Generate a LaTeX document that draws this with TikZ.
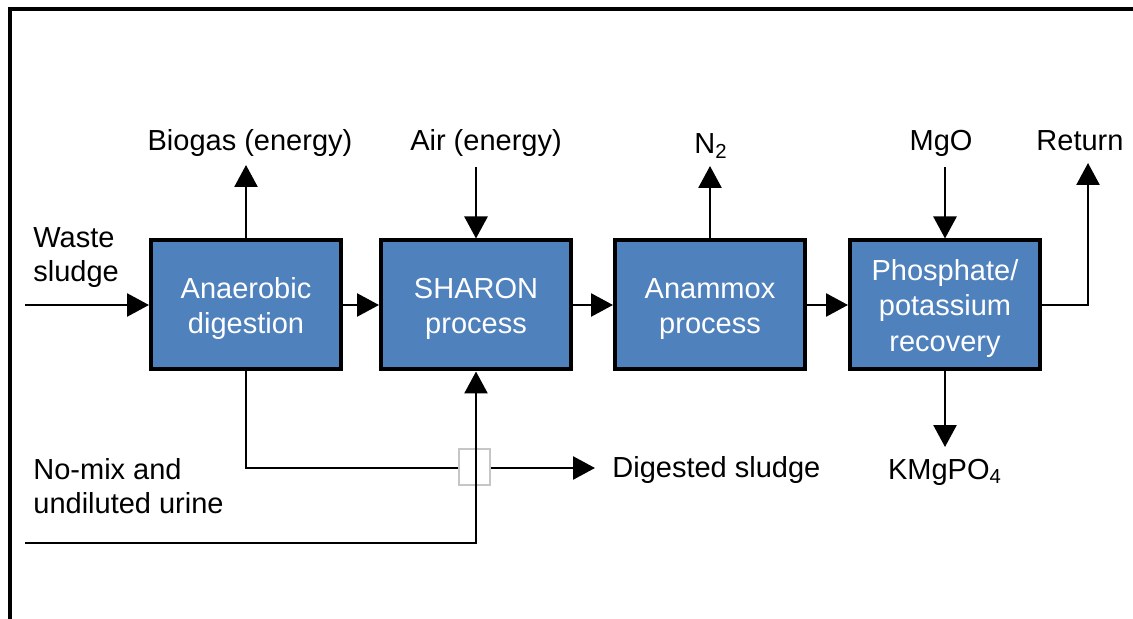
\documentclass[tikz,border=0pt]{standalone}
\usepackage{fontspec}
\setmainfont{Liberation Sans}
\usetikzlibrary{arrows.meta}
\definecolor{procblue}{HTML}{4F81BD}
% extra headroom above the first line of a process box
\newcommand{\topgap}{\rule{0pt}{14pt}}
\tikzset{
  proc/.style={draw=black, line width=2pt, fill=procblue, text=white,
    minimum width=95pt, minimum height=64.5pt, inner sep=0pt, align=center,
    font=\fontsize{14.5}{17.8}\selectfont},
  lbl/.style={inner sep=0pt, align=left, font=\fontsize{14.5}{17}\selectfont},
  flow/.style={line width=1.3pt, -{Triangle[width=11.5pt,length=11pt]}}
}

\begin{document}
\begin{tikzpicture}[x=0.5pt,y=-0.5pt]
  \useasboundingbox (0,0) rectangle (1133,619);
  \draw[line width=2pt] (10,619) -- (10,9) -- (1133,9);

  % process chain
  \node[proc] (ana) at (246,305) {\topgap Anaerobic\\digestion};
  \node[proc] (sha) at (476,305) {\topgap SHARON\\process};
  \node[proc] (anx) at (710,305) {\topgap Anammox\\process};
  \node[proc] (rec) at (945,305) {\topgap Phosphate/\\potassium\\recovery};

  % streams in and out
  \node[lbl] (biogas) at (250,143) {Biogas (energy)};
  \node[lbl] (air) at (486,143) {Air (energy)};
  \node[lbl] (n2) at (711,146) {N\textsubscript{2}};
  \node[lbl] (mgo) at (941,143) {MgO};
  \node[lbl] (ret) at (1080,141) {Return};
  \node[lbl] (kmg) at (945,472) {KMgPO\textsubscript{4}};
  \node[lbl,anchor=west] (dig) at (612,470) {Digested sludge};
  \node[lbl,anchor=west] (waste) at (33,258) {Waste\\sludge};
  \node[lbl,anchor=west] (urine) at (33,486) {No-mix and\\undiluted urine};

  \coordinate (wastein) at (25,305);
  \coordinate (urinein) at (25,543);
  \coordinate (biogasout) at (246,165);
  \coordinate (airin) at (476,167);
  \coordinate (n2out) at (710,166);
  \coordinate (mgoin) at (945,167);
  \coordinate (retout) at (1088,163);
  \coordinate (kmgout) at (945,447);
  \coordinate (digout) at (595,468);

  \draw[flow] (wastein) -- (ana.west);
  \draw[flow] (ana) -- (sha);
  \draw[flow] (sha) -- (anx);
  \draw[flow] (anx) -- (rec);
  \draw[flow] (ana.north) -- (biogasout);
  \draw[flow] (airin) -- (sha.north);
  \draw[flow] (anx.north) -- (n2out);
  \draw[flow] (mgoin) -- (rec.north);
  \draw[flow] (rec.east) -| (retout);
  \draw[flow] (rec.south) -- (kmgout);
  \draw[flow] (ana.south) |- (digout);

  % urine line hops over the digestate line
  \node[draw=gray!45, fill=white, line width=0.6pt, minimum width=15.5pt,
    minimum height=18pt, inner sep=0pt] (hop) at (474.5,467) {};
  \draw[flow] (urinein) -| (sha.south);
\end{tikzpicture}
\end{document}
